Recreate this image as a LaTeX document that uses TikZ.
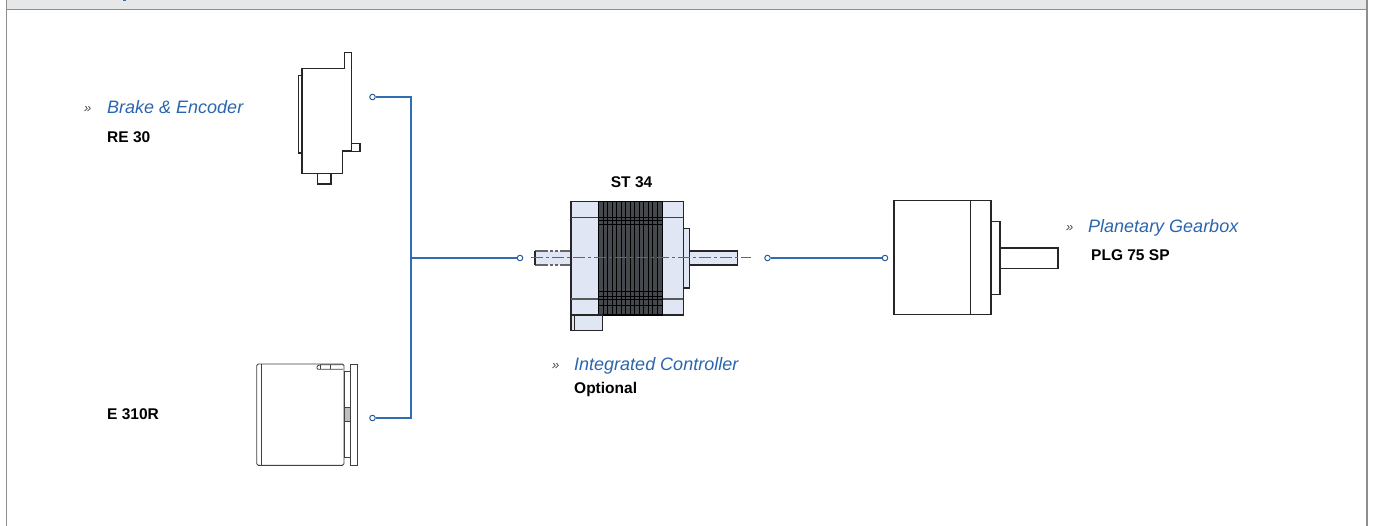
\documentclass[tikz,border=0pt]{standalone}
\usepackage{fontspec}
\setmainfont{Liberation Sans}
\usepackage{xcolor}
\usetikzlibrary{positioning}
\definecolor{linkblue}{HTML}{2F6DB5}
\definecolor{textblue}{HTML}{2A65AE}
\definecolor{framegray}{HTML}{8C8E90}
\definecolor{bargray}{HTML}{E6E7E8}
\definecolor{motorblue}{HTML}{E0E6F3}
\definecolor{coredark}{HTML}{45484C}
\begin{document}
\begin{tikzpicture}[
		x=1pt,
		y=-1pt,
		outline/.style={
			draw=black!85,
			line width=1.2pt,
			fill=white
		},
		thinline/.style={
			draw=black!75,
			line width=0.9pt
		},
		motorpart/.style={
			draw=black!85,
			line width=1.1pt,
			fill=motorblue
		},
		rib/.style={
			black,
			line width=0.8pt
		},
		term/.style={
			circle,
			draw=linkblue!85!black,
			line width=1pt,
			fill=white,
			minimum size=5.5pt,
			inner sep=0pt
		},
		link/.style={
			linkblue,
			line width=1.3pt
		},
		family/.style={
			anchor=base west,
			inner sep=0pt,
			font=\fontsize{18}{20}\selectfont\itshape,
			text=textblue
		},
		part/.style={
			anchor=base west,
			inner sep=0pt,
			font=\fontsize{15.5}{17}\selectfont\bfseries,
			text=black
		},
		bullet/.style={
			anchor=base west,
			inner sep=0pt,
			font=\fontsize{13}{14}\selectfont\itshape,
			text=black!75
		}
		]
		\useasboundingbox (0,0) rectangle (1373,526);
		% Frame
		\fill[bargray] (7,0) rectangle (1367,9);
		\draw[framegray, line width=1.2pt] (7,9.5) -- (1367,9.5);
		\draw[framegray, line width=1.2pt] (6.5,0) -- (6.5,526);
		\draw[framegray, line width=1.2pt] (1367,0) -- (1367,526);
		\draw[linkblue, line width=1.5pt] (123,0.5) -- (126,0.5);
		% Brake and encoder
		\draw[outline] (298.7,75.3) rectangle (302,153);
		\draw[outline] (302,68.7) -- (344.7,68.7) -- (344.7,52.7) -- (351.3,52.7)
			-- (351.3,151) -- (342.7,151) -- (342.7,173.3) -- (302,173.3) -- cycle;
		\draw[outline] (351.3,143.7) rectangle (360,151.3);
		\draw[outline] (317.3,173.3) rectangle (331,184);
		% Encoder
		\draw[thinline, fill=white, rounded corners=1.5pt] (256.7,364) rectangle (344,465.3);
		\draw[thinline] (261,364) -- (261,465.3);
		\draw[thinline, fill=white] (344,371.7) rectangle (350.7,457.3);
		\draw[thinline, fill=white] (350.7,364) rectangle (357.3,465.3);
		\draw[thinline, fill=black!25] (344,407.3) rectangle (350,421.7);
		\draw[thinline, rounded corners=1pt] (343,369.3) -- (317,369.3) -- (317,366) -- (320,364.8) -- (343,364.8);
		\draw[thinline] (320.7,364.8) -- (320.7,369.3);
		\draw[thinline] (330.7,364.8) -- (330.7,369.3);
		% Motor
		\fill[motorblue] (535,251) rectangle (571,265);
		\draw[black!60, line width=1.1pt, dash pattern=on 13pt off 2pt on 3pt off 2pt on 3pt off 2pt on 11pt] (535,251) -- (571,251);
		\draw[black!60, line width=1.1pt, dash pattern=on 13pt off 2pt on 3pt off 2pt on 3pt off 2pt on 11pt] (535,265) -- (571,265);
		\draw[black!85, line width=1.3pt] (535,251) -- (535,265);
		\draw[motorpart] (689.3,251) rectangle (737.3,265);
		\draw[motorpart] (683.3,228.7) rectangle (689.3,288);
		\draw[motorpart] (571,201.7) rectangle (683.3,315);
		\draw[black!75, line width=0.9pt] (571,217.3) -- (683.3,217.3);
		\draw[black!65, line width=1.2pt] (571,299) -- (683.3,299);
		\fill[coredark] (598.7,201.7) rectangle (662.3,315);
		\foreach \ribx in {603,607.5,612,616.5,621,625.5,630,634.5,639,643.5,648,652.5,657}
		\draw[rib] (\ribx,201.7) -- (\ribx,315);
		\foreach \riby in {217.3,220,224.3,291.7,296.7,299,305}
		\draw[rib] (598.7,\riby) -- (662.3,\riby);
		\draw[black, line width=1.2pt] (598.7,201.7) rectangle (662.3,315);
		\draw[motorpart] (571,315) rectangle (602.7,330.3);
		\draw[black!85, line width=1pt] (574,315) -- (574,330.3);
		\draw[black!60, line width=1pt, dash pattern=on 12pt off 3pt on 3pt off 3pt] (531,258) -- (750.7,258);
		% Gearbox
		\draw[outline] (894,200.7) rectangle (991,314.7);
		\draw[black!85, line width=1.2pt] (970.7,200.7) -- (970.7,314.7);
		\draw[outline] (991,221.7) rectangle (1000,294.3);
		\draw[outline] (1000,248) rectangle (1058,268.3);
		% Nodes
		\node[term] (brakeend) at (372.5,97) {};
		\node[term] (encoderend) at (372.5,418) {};
		\node[term] (motorin) at (520,258) {};
		\node[term] (motorout) at (767.5,258) {};
		\node[term] (gearin) at (885,258) {};
		\coordinate (bus) at (411,258);
		% Arrows
		\draw[link] (brakeend) -| (bus);
		\draw[link] (encoderend) -| (bus);
		\draw[link] (bus) -- (motorin);
		\draw[link] (motorout) -- (gearin);
		% Labels
		\node[bullet] (brakemark) at (84,113) {»};
		\node[family] (brakelabel) at (107,114) {Brake \& Encoder};
		\node[part] (relabel) at (107,143) {RE 30};
		\node[part] (elabel) at (107,419.5) {E 310R};
		\node[part] (stlabel) at (610.7,187.3) {ST 34};
		\node[bullet] (ctrlmark) at (552,369.5) {»};
		\node[family] (ctrllabel) at (574,370.7) {Integrated Controller};
		\node[part] (optlabel) at (574,393.3) {Optional};
		\node[bullet] (gearmark) at (1066,231.5) {»};
		\node[family] (gearlabel) at (1088,232.3) {Planetary Gearbox};
		\node[part] (pluglabel) at (1091,260.5) {PLG 75 SP};
	\end{tikzpicture}
\end{document}
